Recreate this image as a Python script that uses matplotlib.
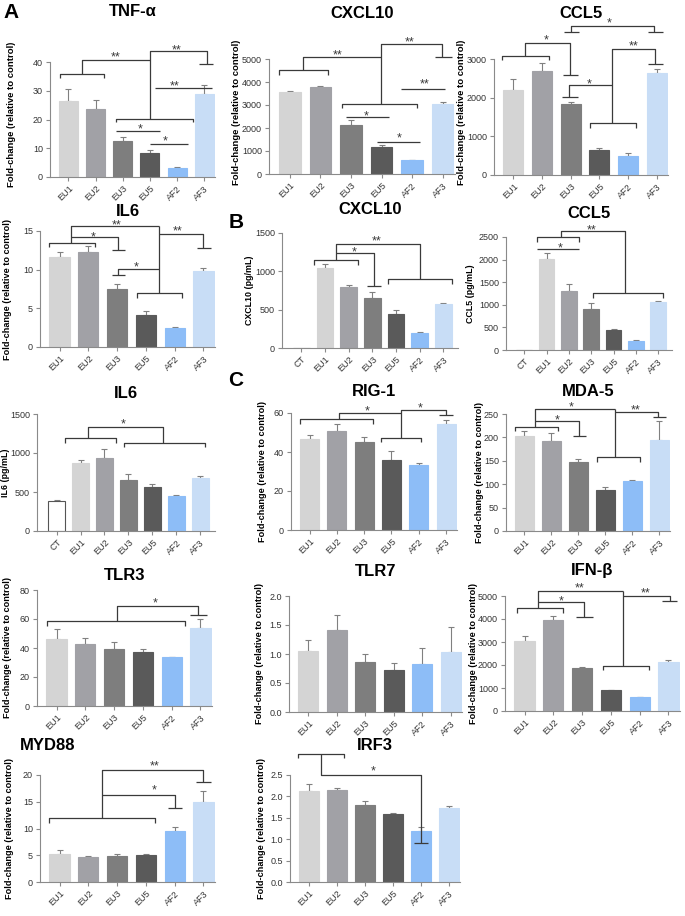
import matplotlib
matplotlib.use('Agg')
import matplotlib.pyplot as plt
import numpy as np

plt.rcParams['font.family'] = ['Liberation Sans', 'DejaVu Sans']

W, H = 685, 916

groups6 = ['EU1', 'EU2', 'EU3', 'EU5', 'AF2', 'AF3']
groups7 = ['CT'] + groups6
colors6 = ['#d4d4d4', '#a1a1a6', '#7e7e7e', '#5a5a5a', '#8dbdf7', '#c8ddf6']
colors7 = ['#ffffff'] + colors6

# means and SEM
tnf_mean = [26.5, 23.7, 12.6, 8.4, 3.1, 28.9]
tnf_sem = [4.0, 3.1, 1.4, 0.9, 0.3, 3.1]
cxcl10_mean = [3550, 3770, 2150, 1190, 610, 3060]
cxcl10_sem = [70, 50, 200, 50, 20, 50]
ccl5_mean = [2190, 2700, 1840, 640, 500, 2650]
ccl5_sem = [290, 200, 40, 50, 60, 90]
il6_mean = [11.7, 12.3, 7.5, 4.2, 2.5, 9.8]
il6_sem = [0.6, 0.7, 0.7, 0.4, 0.05, 0.4]
cxcl10_pg_mean = [0, 1045, 795, 655, 450, 190, 575]
cxcl10_pg_sem = [0, 50, 25, 70, 50, 20, 10]
ccl5_pg_mean = [0, 2020, 1300, 910, 450, 210, 1060]
ccl5_pg_sem = [0, 130, 170, 130, 10, 10, 20]
il6_pg_mean = [380, 875, 940, 650, 565, 455, 685]
il6_pg_sem = [15, 30, 110, 75, 35, 5, 15]
rig_mean = [46.5, 51, 45.3, 36, 33.5, 54.5]
rig_sem = [2, 3.5, 2.2, 4.5, 1, 2]
mda_mean = [203, 192, 147, 87, 106, 195]
mda_sem = [10, 17, 7, 8, 4, 39]
tlr3_mean = [46, 43, 39.5, 37.5, 33.5, 53.5]
tlr3_sem = [7, 4, 4.5, 2, 0.5, 6.5]
tlr7_mean = [1.05, 1.41, 0.87, 0.72, 0.82, 1.04]
tlr7_sem = [0.2, 0.27, 0.13, 0.13, 0.28, 0.43]
ifn_mean = [3030, 3960, 1890, 910, 620, 2110]
ifn_sem = [250, 160, 30, 20, 10, 100]
myd88_mean = [5.3, 4.6, 4.8, 5.0, 9.6, 15.0]
myd88_sem = [0.6, 0.2, 0.4, 0.3, 0.6, 2.0]
irf3_mean = [2.13, 2.15, 1.8, 1.6, 1.2, 1.72]
irf3_sem = [0.17, 0.05, 0.1, 0.02, 0.08, 0.06]


def grp(a, b, y, d):
    return [(a, y - d), (a, y), (b, y), (b, y - d)]


def cap(x, y, w=0.27):
    return [(x - w, y), (x + w, y)]


# significance brackets (data units) and stars
tnf_lines = [grp(-0.3, 1.3, 35.8, 1.4), [(0.5, 35.8), (0.5, 40.6), (3.0, 40.6)],
             grp(1.75, 4.6, 20.3, 1.3), [(3.0, 20.3), (3.0, 43.8), (5.1, 43.8), (5.1, 39.3)],
             cap(5.07, 39.3), [(3.2, 31), (5.3, 31)], [(1.75, 16), (3.36, 16)],
             [(3.0, 11.5), (4.42, 11.5)]]
tnf_stars = [(1.72, 42.9, '**'), (3.97, 45.4, '**'), (3.9, 32.9, '**'),
             (2.63, 18.0, '*'), (3.58, 13.6, '*')]

cxcl10_lines = [grp(-0.35, 1.26, 4535, 218), [(0.44, 4535), (0.44, 5073), (2.98, 5073)],
                grp(1.7, 4.15, 3052, 189),
                [(2.98, 3052), (2.98, 5654), (4.98, 5654), (4.98, 5073)], cap(5.03, 5073),
                [(3.63, 3692), (5.06, 3692)], [(1.85, 2471), (3.24, 2471)],
                [(2.86, 1410), (4.24, 1410)]]
cxcl10_stars = [(1.55, 5335, '**'), (3.91, 5872, '**'), (4.42, 4055, '**'),
                (2.5, 2674, '*'), (3.57, 1700, '*')]

ccl5_lines = [grp(-0.39, 1.25, 3069, 104),
              [(0.4, 3069), (0.4, 3416), (1.97, 3416), (1.97, 2584)], cap(2.0, 2584),
              [(2.0, 3711), (2.0, 3850), (4.92, 3850), (4.92, 3711)], cap(2.02, 3711), cap(4.97, 3711),
              grp(2.66, 4.27, 1335, 112),
              [(3.46, 1335), (3.46, 3260), (4.94, 3260), (4.94, 2879)], cap(4.97, 2879),
              [(3.46, 2332), (1.94, 2332), (1.94, 2012)], cap(1.97, 2012)]
ccl5_stars = [(1.13, 3572, '*'), (3.33, 4020, '*'), (4.2, 3434, '**'), (2.64, 2445, '*')]

il6_lines = [grp(-0.35, 1.24, 13.5, 0.6), [(0.39, 13.5), (0.39, 15.6), (3.47, 15.6)],
             [(0.39, 14.2), (2.03, 14.2), (2.03, 12.6)], cap(2.06, 12.6, 0.23),
             grp(2.69, 4.26, 7.0, 0.6), [(3.47, 7.0), (3.47, 15.6)],
             [(3.47, 14.65), (5.0, 14.65), (5.0, 12.8)], cap(5.02, 12.8, 0.25),
             [(3.47, 10.1), (2.02, 10.1), (2.02, 9.27)], cap(2.06, 9.27, 0.23)]
il6_stars = [(1.17, 14.7, '*'), (1.97, 16.2, '**'), (4.11, 15.5, '**'), (2.66, 10.8, '*')]

cxcl10_pg_lines = [grp(0.52, 2.38, 1154, 65), [(1.48, 1154), (1.48, 1362), (5.0, 1362), (5.0, 895)],
                   [(1.48, 1245), (3.06, 1245), (3.06, 808)], cap(3.07, 808, 0.3),
                   grp(3.66, 6.37, 895, 65)]
cxcl10_pg_stars = [(2.21, 1297, '*'), (3.2, 1440, '**')]

ccl5_pg_lines = [grp(0.57, 2.46, 2500, 109), [(1.64, 2500), (1.64, 2624), (4.53, 2624), (4.53, 1261)],
                 [(0.57, 2238), (2.45, 2238)], grp(3.06, 6.2, 1261, 102)]
ccl5_pg_stars = [(1.6, 2332, '*'), (3.03, 2733, '**')]

il6_pg_lines = [grp(0.35, 2.47, 1189, 55), [(1.32, 1189), (1.32, 1338), (4.43, 1338), (4.43, 1134)],
                grp(2.8, 6.2, 1134, 60)]
il6_pg_stars = [(2.8, 1423, '*')]

rig_lines = [grp(-0.36, 2.34, 56.9, 2.4), [(1.09, 56.9), (1.09, 60), (3.35, 60)],
             grp(2.63, 4.09, 47.4, 2.4),
             [(3.35, 47.4), (3.35, 61.7), (5.0, 61.7), (5.0, 58.8)], cap(5.0, 58.8)]
rig_stars = [(2.12, 62.6, '*'), (4.06, 64.3, '*')]

mda_lines = [grp(-0.36, 1.23, 223, 9.5), [(0.4, 223), (0.4, 260), (3.35, 260)],
             [(0.4, 235.6), (2.01, 235.6), (2.01, 203.6)], cap(2.05, 203.6, 0.24),
             grp(2.69, 4.28, 157.3, 9.3), [(3.35, 157.3), (3.35, 260)],
             [(3.35, 254.8), (4.96, 254.8), (4.96, 244)], cap(5.0, 244, 0.24)]
mda_stars = [(1.75, 272.6, '*'), (1.2, 244, '*'), (4.13, 265.5, '**')]

tlr3_lines = [grp(-0.33, 4.47, 58.9, 3.7),
              [(2.11, 58.9), (2.11, 69.2), (4.93, 69.2), (4.93, 62.8)], cap(4.93, 62.8, 0.29)]
tlr3_stars = [(3.42, 73.6, '*')]

ifn_lines = [grp(-0.26, 1.32, 4462, 217), [(0.46, 4462), (0.46, 5228), (3.43, 5228)],
             [(0.46, 4722), (2.07, 4722), (2.07, 4072)], cap(2.07, 4072, 0.3),
             grp(2.74, 4.33, 1964, 202), [(3.43, 1964), (3.43, 5228)],
             [(3.43, 5011), (5.05, 5011), (5.05, 4794)], cap(5.04, 4794)]
ifn_stars = [(1.26, 4939, '*'), (1.92, 5516, '**'), (4.21, 5300, '**')]

myd88_lines = [grp(-0.35, 3.3, 12.0, 1.0),
               [(1.47, 12.0), (1.47, 20.9), (5.0, 20.9), (5.0, 18.7)], cap(5.0, 18.7, 0.25),
               [(1.47, 16.3), (4.0, 16.3), (4.0, 13.8)], cap(4.0, 13.8, 0.25)]
myd88_stars = [(3.3, 22.3, '**'), (3.3, 17.8, '*')]

irf3_lines = [grp(-0.4, 1.25, 3.0, 0.1), [(0.42, 3.0), (0.42, 2.5), (4.0, 2.5), (4.0, 0.92)],
              cap(4.0, 0.92, 0.25)]
irf3_stars = [(2.3, 2.68, '*')]

FOLD = 'Fold-change (relative to control)'

# title, groups, means, sem, ylim, ytick step, ylabel, axes px (x0, x1, ytop, ybot),
# title (x, y) px, ylabel centre (x, y) px, ylabel size, lines, stars
panels = [
    ('TNF-α', groups6, tnf_mean, tnf_sem, 40, 10, FOLD, (50, 215, 62, 177), (None, 12), (12, 114), 6.8, tnf_lines, tnf_stars),
    ('CXCL10', groups6, cxcl10_mean, cxcl10_sem, 5000, 1000, FOLD, (269, 455, 59, 174), (None, 13), (237, 112), 6.8, cxcl10_lines, cxcl10_stars),
    ('CCL5', groups6, ccl5_mean, ccl5_sem, 3000, 1000, FOLD, (494, 668, 59, 175), (None, 13), (462, 112), 6.8, ccl5_lines, ccl5_stars),
    ('IL6', groups6, il6_mean, il6_sem, 15, 5, FOLD, (40, 215, 231, 347), (None, 212), (8, None), 6.6, il6_lines, il6_stars),
    ('CXCL10', groups7, cxcl10_pg_mean, cxcl10_pg_sem, 1500, 500, 'CXCL10 (pg/mL)', (282, 458, 233, 348), (None, 210), (250, None), 6.4, cxcl10_pg_lines, cxcl10_pg_stars),
    ('CCL5', groups7, ccl5_pg_mean, ccl5_pg_sem, 2500, 500, 'CCL5 (pg/mL)', (506, 672, 237, 350), (None, 213), (471, None), 6.4, ccl5_pg_lines, ccl5_pg_stars),
    ('IL6', groups7, il6_pg_mean, il6_pg_sem, 1500, 500, 'IL6 (pg/mL)', (37, 215, 414, 531), (None, 393), (6, None), 6.4, il6_pg_lines, il6_pg_stars),
    ('RIG-1', groups6, rig_mean, rig_sem, 60, 20, FOLD, (291, 457, 413, 530), (None, 392), (263, None), 6.6, rig_lines, rig_stars),
    ('MDA-5', groups6, mda_mean, mda_sem, 250, 50, FOLD, (506, 670, 414, 531), (None, 392), (480, None), 6.6, mda_lines, mda_stars),
    ('TLR3', groups6, tlr3_mean, tlr3_sem, 80, 20, FOLD, (37, 212, 590, 706), (None, 575), (8, None), 6.6, tlr3_lines, tlr3_stars),
    ('TLR7', groups6, tlr7_mean, tlr7_sem, 2.0, 0.5, FOLD, (289, 462, 596, 712), (None, 571), (260, None), 6.6, [], []),
    ('IFN-β', groups6, ifn_mean, ifn_sem, 5000, 1000, FOLD, (505, 680, 596, 711), (None, 571), (474, None), 6.6, ifn_lines, ifn_stars),
    ('MYD88', groups6, myd88_mean, myd88_sem, 20, 5, FOLD, (40, 215, 775, 882), (48, 745), (10, None), 6.6, myd88_lines, myd88_stars),
    ('IRF3', groups6, irf3_mean, irf3_sem, 2.5, 0.5, FOLD, (290, 460, 775, 882), (None, 745), (262, None), 6.6, irf3_lines, irf3_stars),
]

fig = plt.figure(figsize=(W / 100, H / 100), dpi=100)

for (title, groups, mean, sem, ymax, step, ylab, box, tpos, lpos, lsize,
     lines, stars) in panels:
    x0, x1, yt, yb = box
    ax = fig.add_axes([x0 / W, 1 - yb / H, (x1 - x0) / W, (yb - yt) / H])
    x = np.arange(len(groups))
    cols = colors7 if len(groups) == 7 else colors6
    mean = np.array(mean, dtype=float)
    sem = np.array(sem, dtype=float)
    edges = ['#555555' if c == '#ffffff' else c for c in cols]
    ax.bar(x, mean, width=0.7, color=cols, edgecolor=edges, linewidth=0.8, zorder=2)
    m = sem > 0
    ax.errorbar(x[m], mean[m], yerr=[np.zeros(m.sum()), sem[m]], fmt='none',
                ecolor='#808080', elinewidth=0.8, capsize=2.5, capthick=0.8, zorder=1)
    for pts in lines:
        xs, ys = zip(*pts)
        ax.plot(xs, ys, color='#3a3a3a', lw=0.9, clip_on=False, solid_capstyle='butt')
    for sx, sy, s in stars:
        ax.annotate(s, (sx, sy), xytext=(0, -5), textcoords='offset points', ha='center',
                    va='baseline', fontsize=9, color='#3a3a3a', annotation_clip=False)
    if len(groups) == 7:
        ax.set_xlim(-0.82, 6.62)
    else:
        ax.set_xlim(-0.68, 5.4)
    ax.set_ylim(0, ymax)
    ticks = np.arange(0, ymax + step / 2, step)
    ax.set_yticks(ticks)
    if step < 1:
        ax.set_yticklabels(['%.1f' % t for t in ticks])
    ax.set_xticks(x)
    ax.set_xticklabels(groups, rotation=45, ha='right', rotation_mode='anchor')
    for s in ['top', 'right']:
        ax.spines[s].set_visible(False)
    for s in ['left', 'bottom']:
        ax.spines[s].set_color('#8a8a8a')
        ax.spines[s].set_linewidth(0.8)
    ax.tick_params(length=3, width=0.8, color='#8a8a8a', labelcolor='#333333', labelsize=6.5, pad=2)
    ax.set_ylabel(ylab, fontsize=lsize, fontweight='bold')
    # label anchor is its right edge
    lx, ly = lpos
    fy = 0.5 if ly is None else (yb - ly) / (yb - yt)
    ax.yaxis.set_label_coords((lx + lsize * 0.65 - x0) / (x1 - x0), fy)
    tx = (x0 + x1) / 2 if tpos[0] is None else tpos[0]
    fig.text(tx / W, 1 - tpos[1] / H, title, ha='center', va='center',
             fontsize=12, fontweight='bold')

for lab, px, py in [('A', 11, 13), ('B', 236, 222), ('C', 236, 380)]:
    fig.text(px / W, 1 - py / H, lab, ha='center', va='center', fontsize=15, fontweight='bold')

fig.savefig('out.png', dpi=100)
